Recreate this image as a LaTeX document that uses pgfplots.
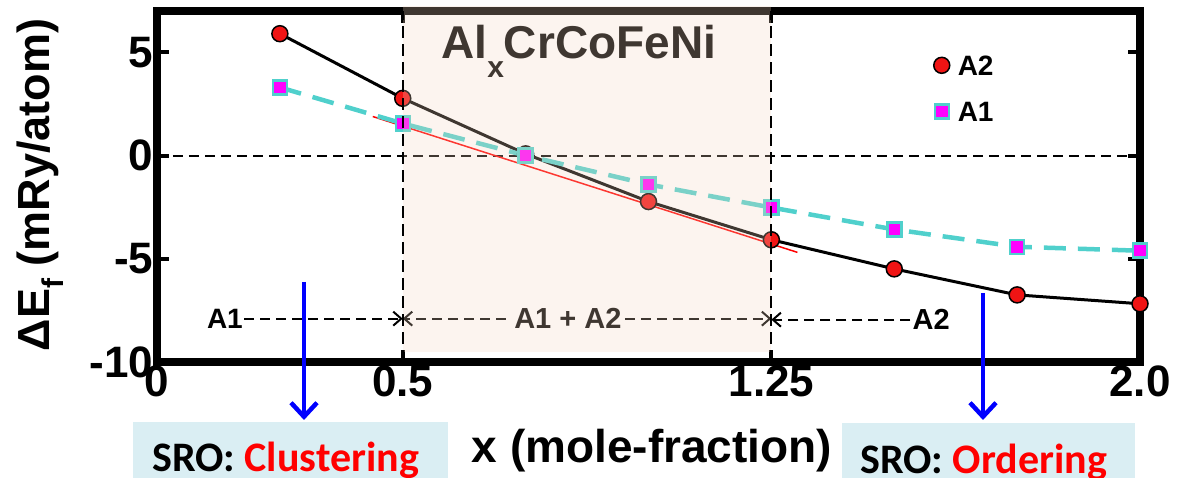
\documentclass[border=0pt]{standalone}
\usepackage{fontspec}
\setmainfont{Liberation Sans}
\newfontfamily\calibri{Carlito}
\usepackage{pgfplots}
\pgfplotsset{compat=1.18}
\usetikzlibrary{arrows.meta}
\definecolor{turq}{RGB}{80,208,204}
\definecolor{mag}{RGB}{255,0,255}
\definecolor{peach}{RGB}{245,213,192}
\definecolor{boxblue}{RGB}{218,238,243}
\definecolor{mred}{RGB}{240,20,20}

\begin{document}
\begin{tikzpicture}[x=1pt,y=1pt]
\path[use as bounding box] (0,0) rectangle (1186,478);
\begin{axis}[
  at={(157pt,116pt)}, anchor=south west,
  scale only axis, width=983pt, height=351pt,
  xmin=0, xmax=2, ymin=-10, ymax=7,
  clip=false,
  axis line style={line width=8pt, black},
  xtick={0,0.5,1.25,2}, xticklabels={0,0.5,1.25,2.0},
  ytick={-10,-5,0,5}, yticklabels={-10,-5,0,5},
  tick align=inside, tick pos=both,
  major tick length=12pt,
  tick style={line width=4pt, black},
  ticklabel style={font=\fontsize{44}{48}\selectfont\bfseries},
  xlabel={x (mole-fraction)},
  xlabel style={font=\fontsize{46}{50}\selectfont\bfseries, at={(axis description cs:0.5036,-0.2877)}, anchor=base},
  ylabel={ΔE\raisebox{-0.3em}{\fontsize{30}{30}\selectfont f} (mRy/atom)},
  ylabel style={font=\fontsize{45}{50}\selectfont\bfseries, at={(axis description cs:-0.109,0.504)}, anchor=base, rotate=0},
  legend cell align=left,
  legend style={draw=none, fill=none, at={(axis description cs:0.790,0.880)}, anchor=north west,
    font=\fontsize{28}{30}\selectfont\bfseries, inner sep=0pt, row sep=22pt, column sep=6pt,
    nodes={inner sep=2pt, text height=20pt, text depth=0pt}},
  legend image code/.code={\draw[#1, only marks] plot coordinates {(0pt,0pt)};},
]
% zero line
\addplot[forget plot, black, line width=2pt, dash pattern=on 10pt off 6pt] coordinates {(0,0) (2,0)};
% linear fit (red)
\addplot[forget plot, red, line width=1.5pt] coordinates {(0.439,1.89) (1.303,-4.69)};
% A2
\addplot[black, line width=3pt, mark=*, mark size=8pt,
  mark options={fill=mred, draw=black, line width=1.5pt, solid}]
  coordinates {(0.25,5.9) (0.5,2.77) (0.75,0.08) (1.0,-2.23) (1.25,-4.08) (1.5,-5.49) (1.75,-6.75) (2.0,-7.18)};
\addlegendentry{A2}
% A1
\addplot[turq, line width=4.5pt, dash pattern=on 22pt off 12pt, mark=square*, mark size=7pt,
  mark options={fill=mag, draw=turq, line width=2.5pt, solid}]
  coordinates {(0.25,3.30) (0.5,1.55) (0.75,0.0) (1.0,-1.40) (1.25,-2.52) (1.5,-3.58) (1.75,-4.42) (2.0,-4.61)};
\addlegendentry{A1}
% annotations
\node[font=\fontsize{28}{30}\selectfont\bfseries, anchor=east, inner sep=1pt] at (axis cs:0.177,-7.9) {A1};
\draw[black, line width=2pt, dash pattern=on 10pt off 6pt, -{Straight Barb[length=8pt,width=14pt]}] (axis cs:0.178,-7.9) -- (axis cs:0.5,-7.9);
\node[font=\fontsize{29}{30}\selectfont\bfseries, inner sep=1pt] at (axis cs:0.836,-7.9) {A1 + A2};
\draw[black, line width=2pt, dash pattern=on 10pt off 6pt, -{Straight Barb[length=8pt,width=14pt]}] (axis cs:0.71,-7.9) -- (axis cs:0.5,-7.9);
\draw[black, line width=2pt, dash pattern=on 10pt off 6pt, -{Straight Barb[length=8pt,width=14pt]}] (axis cs:0.952,-7.9) -- (axis cs:1.25,-7.9);
\node[font=\fontsize{29}{30}\selectfont\bfseries, anchor=west, inner sep=1pt] at (axis cs:1.535,-7.95) {A2};
\draw[black, line width=2pt, dash pattern=on 10pt off 6pt, -{Straight Barb[length=8pt,width=14pt]}] (axis cs:1.533,-7.95) -- (axis cs:1.25,-7.95);
% title
\node[font=\fontsize{46}{50}\selectfont\bfseries, anchor=base west, inner sep=0pt] at (axis cs:0.578,4.72)
  {Al\raisebox{-0.42em}{\fontsize{30}{30}\selectfont x}CrCoFeNi};
\coordinate (ov1) at (axis cs:0.5,-9.5);
\coordinate (ov2) at (axis cs:1.25,7.25);
\coordinate (va) at (axis cs:0.5,-10);
\coordinate (vb) at (axis cs:0.5,7);
\coordinate (vc) at (axis cs:1.25,-10);
\coordinate (vd) at (axis cs:1.25,7);
\end{axis}
\fill[peach, opacity=0.26] (ov1) rectangle (ov2);
\draw[black, line width=2pt, dash pattern=on 12pt off 6pt] (va) -- (vb);
\draw[black, line width=2pt, dash pattern=on 12pt off 6pt] (vc) -- (vd);
% bottom boxes
\fill[boxblue] (133,-5) rectangle (448,56);
\node[anchor=base west, inner sep=0pt, font=\calibri\bfseries\fontsize{42}{44}\selectfont] at (152,6) {SRO: \textcolor{red}{Clustering}};
\fill[boxblue] (842,-5) rectangle (1135,55);
\node[anchor=base west, inner sep=0pt, font=\calibri\bfseries\fontsize{42}{44}\selectfont] at (860,4) {SRO: \textcolor{red}{Ordering}};
\draw[blue, line width=4.5pt, -{Straight Barb[length=14pt,width=26pt]}] (304,196) -- (304,58);
\draw[blue, line width=4.5pt, -{Straight Barb[length=14pt,width=26pt]}] (983,185) -- (983,58);
\end{tikzpicture}
\end{document}
